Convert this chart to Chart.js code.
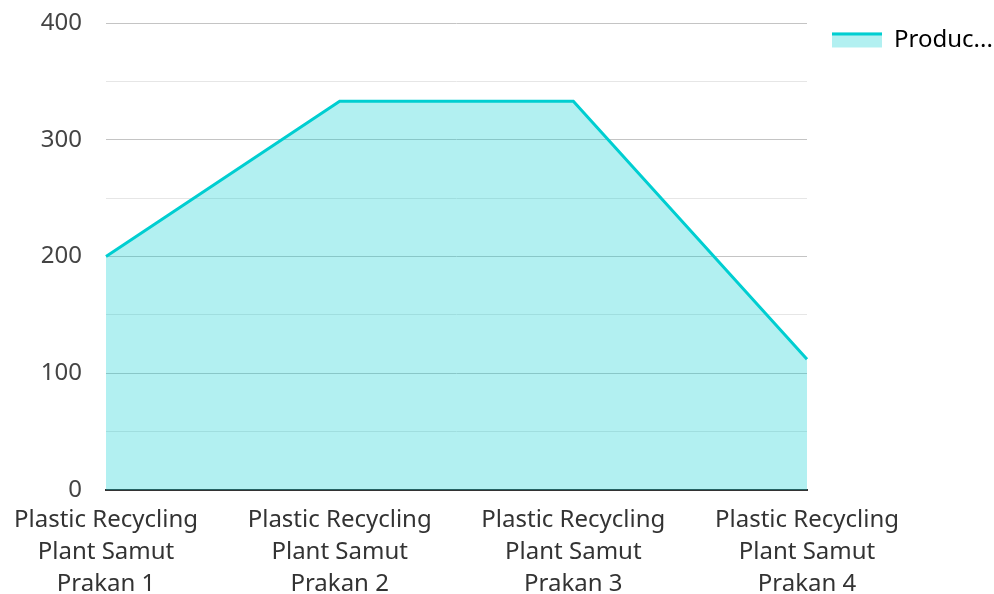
<!DOCTYPE html>
<html>
<head>
<meta charset="utf-8">
<script src="https://cdn.jsdelivr.net/npm/chart.js@4/dist/chart.umd.min.js"></script>
<style>
  html, body { margin: 0; padding: 0; background: #fff; }
  #wrap { width: 994px; height: 594px; position: relative; }
</style>
</head>
<body>
<div id="wrap"><canvas id="c"></canvas></div>
<script>
// Plant names (each split over three lines) and their output
const plants = [
  ['Plastic Recycling', 'Plant Samut', 'Prakan 1'],
  ['Plastic Recycling', 'Plant Samut', 'Prakan 2'],
  ['Plastic Recycling', 'Plant Samut', 'Prakan 3'],
  ['Plastic Recycling', 'Plant Samut', 'Prakan 4']
];
const production = [200, 333, 333, 112];
const seriesName = 'Produc...';
const yTicks = [0, 100, 200, 300, 400];

const lineColor = 'rgb(0, 206, 209)';
const fillColor = 'rgba(0, 206, 209, 0.3)';
const fontFamily = '"Noto Sans", sans-serif';
const legendWidth = 187;

// Fixed-width legend column, plus a stroke along the top of the swatch
const legendTweaks = {
  id: 'legendTweaks',
  afterInit(chart) {
    const lg = chart.legend;
    if (!lg) return;
    const fit = lg.fit.bind(lg);
    lg.fit = function () { fit(); this.width = legendWidth; };
  },
  afterDraw(chart) {
    const lg = chart.legend;
    if (!lg || !lg.legendHitBoxes) return;
    const ctx = chart.ctx;
    const bw = lg.options.labels.boxWidth;
    const bh = lg.options.labels.boxHeight;
    lg.legendHitBoxes.forEach(box => {
      const top = box.top + (box.height - bh) / 2;
      ctx.save();
      ctx.strokeStyle = lineColor;
      ctx.lineWidth = 3;
      ctx.beginPath();
      ctx.moveTo(box.left, top + 1.5);
      ctx.lineTo(box.left + bw, top + 1.5);
      ctx.stroke();
      ctx.restore();
    });
  }
};

new Chart(document.getElementById('c'), {
  type: 'line',
  data: {
    labels: plants,
    datasets: [{
      label: seriesName,
      data: production,
      borderColor: lineColor,
      backgroundColor: fillColor,
      borderWidth: 3,
      fill: 'origin',
      tension: 0,
      pointRadius: 0,
      pointHoverRadius: 0
    }]
  },
  options: {
    responsive: true,
    maintainAspectRatio: false,
    animation: false,
    layout: { padding: { top: 3, right: 0, bottom: 0, left: 0 } },
    plugins: {
      tooltip: { enabled: false },
      legend: {
        position: 'right',
        align: 'start',
        labels: {
          boxWidth: 50,
          boxHeight: 15,
          padding: 25,
          color: '#333',
          font: { family: fontFamily, size: 24 },
          generateLabels: () => [{
            text: seriesName,
            fillStyle: fillColor,
            strokeStyle: 'rgba(0,0,0,0)',
            lineWidth: 0,
            datasetIndex: 0
          }]
        }
      }
    },
    scales: {
      x: {
        offset: false,
        grid: { display: false, drawTicks: false },
        border: { display: true, color: '#333', width: 2 },
        ticks: {
          color: '#333',
          padding: 14,
          maxRotation: 0,
          autoSkip: false,
          font: { family: fontFamily, size: 24, lineHeight: 1.333 }
        },
        afterFit: (s) => { s.height = 104; }
      },
      y: {
        min: 0,
        max: 400,
        grid: {
          drawTicks: false,
          lineWidth: 1,
          color: (ctx) => (ctx.tick && yTicks.includes(ctx.tick.value)) ? '#c4c4c4' : '#e6e6e6'
        },
        border: { display: false },
        ticks: {
          stepSize: 50,
          color: '#444',
          padding: 24,
          font: { family: fontFamily, size: 24 },
          callback: (v) => yTicks.includes(v) ? String(v) : ''
        },
        afterFit: (s) => { s.width = 104; s.paddingTop = 23; s.paddingBottom = 0; }
      }
    }
  },
  plugins: [legendTweaks]
});
</script>
</body>
</html>
